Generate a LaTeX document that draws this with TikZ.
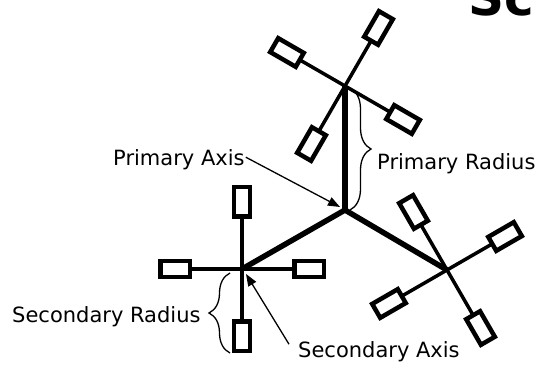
\documentclass[tikz,border=0pt]{standalone}
\usepackage{fontspec}
\setmainfont{DejaVu Sans}
\usetikzlibrary{decorations.pathreplacing,arrows.meta,calc}
\begin{document}
\begin{tikzpicture}[x=1pt,y=1pt,
  prim/.style={line width=5.5pt},
  arm/.style={line width=3.5pt},
  sbox/.style={draw, line width=4.5pt, fill=white, minimum width=29.5pt, minimum height=16pt, inner sep=0pt, outer sep=0pt},
  lbl/.style={font=\fontsize{21}{25}\selectfont, inner sep=0pt, anchor=base west},
  brc/.style={decorate, decoration={brace, amplitude=21pt}, line width=1.3pt},
  arr/.style={line width=1.3pt, -{Triangle[length=12pt,width=9pt]}}
]
\clip (0,0) rectangle (540,364);
\useasboundingbox (0,0) rectangle (540,364);
% title (clipped)
\node[font=\fontsize{50}{54}\selectfont\bfseries, inner sep=0pt, anchor=base west] (title) at (468,348) {Sc};
% hubs
\coordinate (C) at (345,154);
\coordinate (T) at (345,278);
\coordinate (L) at (242,95);
\coordinate (R) at (447,94);
\draw[prim] (C) -- (T);
\draw[prim] (C) -- (L);
\draw[prim] (C) -- (R);
% secondary arms and boxes
\foreach \h/\a in {T/60,T/150,T/240,T/330,L/0,L/90,L/180,L/270,R/30,R/120,R/210,R/300}{
  \node[sbox, rotate=\a] (\h-\a) at ($(\h)+(\a:67)$) {};
  \draw[arm] (\h) -- (\h-\a);
}
% labels
\node[lbl] (pa) at (113,198) {Primary Axis};
\node[lbl] (pr) at (377,194) {Primary Radius};
\node[lbl] (sr) at (12,42) {Secondary Radius};
\node[lbl] (sa) at (298,7) {Secondary Axis};
% braces
\coordinate (prA) at (350,276);
\coordinate (prB) at (350,154);
\draw[brc] (prA) -- (prB);
\coordinate (srA) at (230,11);
\coordinate (srB) at (230,91);
\draw[brc] (srA) -- (srB);
% arrows
\coordinate (paTip) at (340,157);
\coordinate (saTip) at (246,90);
\draw[arr] ($(pa.east)+(1,3)$) -- (paTip);
\draw[arr] ($(sa.west)+(-9,7)$) -- (saTip);
\end{tikzpicture}
\end{document}
